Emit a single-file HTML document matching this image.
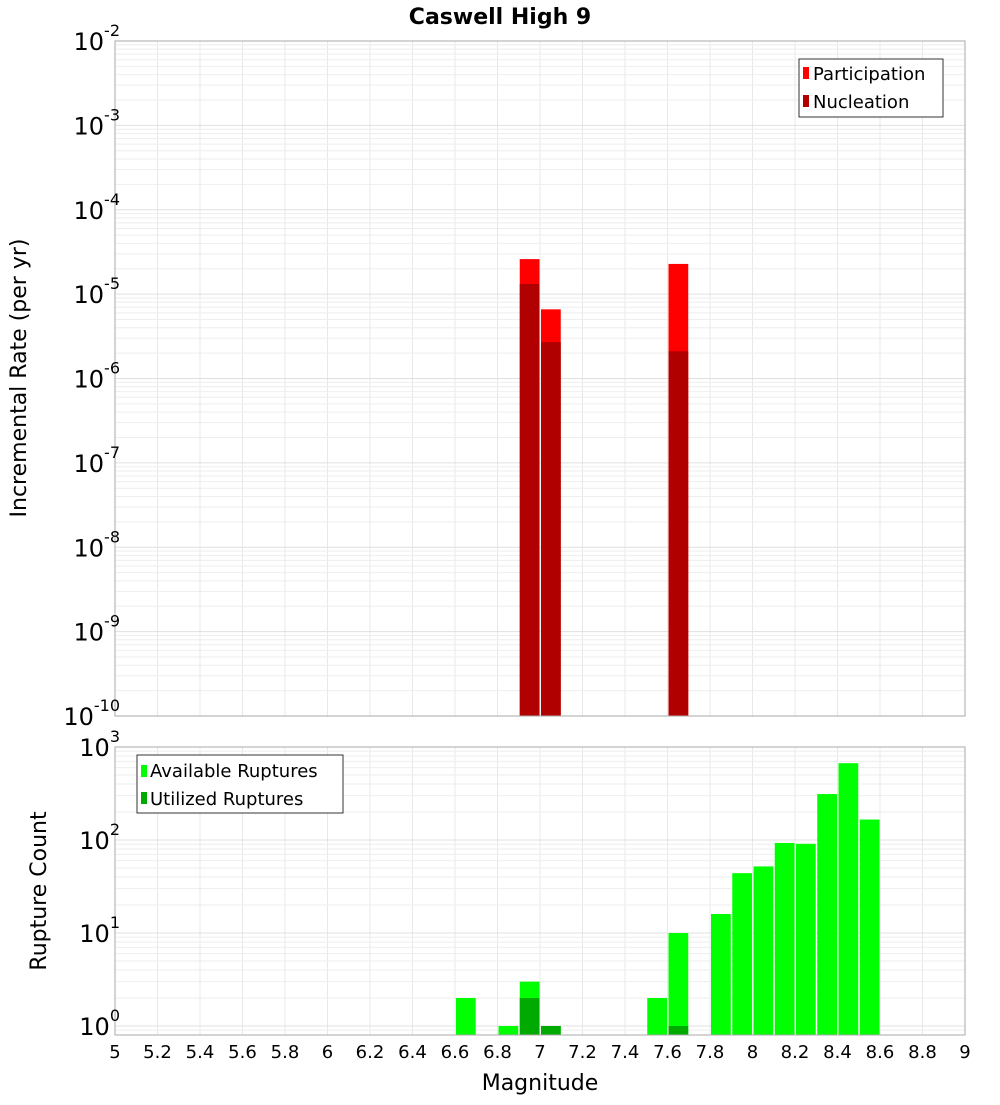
<!DOCTYPE html>
<html><head><meta charset="utf-8"><style>
body{margin:0;background:#fff;font-family:"Liberation Sans","DejaVu Sans",sans-serif}
svg text{font-family:"DejaVu Sans","Liberation Sans",sans-serif}
</style></head><body>
<svg id="chart" width="1000" height="1100" xmlns="http://www.w3.org/2000/svg">
<rect width="1000" height="1100" fill="#fff"/>
<text x="500" y="24" text-anchor="middle" font-size="22" font-weight="bold">Caswell High 9</text>
<g id="grid"></g>
<g id="bars"></g>
<rect x="115" y="41" width="850" height="675" fill="none" stroke="#aaa"/>
<rect x="115" y="747" width="850" height="288" fill="none" stroke="#aaa"/>
<g id="labels"></g>
<text transform="translate(26,378) rotate(-90)" text-anchor="middle" font-size="22">Incremental Rate (per yr)</text>
<text transform="translate(46,891) rotate(-90)" text-anchor="middle" font-size="22">Rupture Count</text>
<text x="540" y="1090" text-anchor="middle" font-size="22">Magnitude</text>
<g>
<rect x="799" y="59" width="144" height="58" fill="#fff" stroke="#333"/>
<rect x="803" y="67" width="6" height="12" fill="#ff0000"/>
<text x="813" y="80" font-size="18">Participation</text>
<rect x="803" y="95" width="6" height="12" fill="#b00000"/>
<text x="813" y="108" font-size="18">Nucleation</text>
</g>
<g>
<rect x="137" y="755" width="206" height="58" fill="#fff" stroke="#333"/>
<rect x="141" y="765" width="6" height="12" fill="#00ff00"/>
<text x="150" y="777" font-size="18">Available Ruptures</text>
<rect x="141" y="792" width="6" height="12" fill="#00aa00"/>
<text x="150" y="805" font-size="18">Utilized Ruptures</text>
</g>
</svg>
<script>
const NS="http://www.w3.org/2000/svg";
const rateMags=[6.95,7.05,7.65];
const participation=[2.6e-5,6.6e-6,2.28e-5];
const nucleation=[1.32e-5,2.7e-6,2.1e-6];
const countMags=[6.65,6.85,6.95,7.05,7.55,7.65,7.85,7.95,8.05,8.15,8.25,8.35,8.45,8.55];
const available=[2,1,3,1,2,10,16,44,52,93,91,312,670,166];
const utilized=[0,0,2,1,0,1,0,0,0,0,0,0,0,0];
const xTicks=[5,5.2,5.4,5.6,5.8,6,6.2,6.4,6.6,6.8,7,7.2,7.4,7.6,7.8,8,8.2,8.4,8.6,8.8,9];
const topExps=[-2,-3,-4,-5,-6,-7,-8,-9,-10];
const botExps=[3,2,1,0];
const binW=0.1;
const X=m=>115+(m-5)*212.5;
const YT=v=>41+(-2-Math.log10(v))*84.375;
const YB=v=>1026-Math.log10(v)*93;
function el(tag,attrs,parent){const e=document.createElementNS(NS,tag);for(const k in attrs)e.setAttribute(k,attrs[k]);document.getElementById(parent).appendChild(e);return e;}
// grid
for(const t of xTicks){
 const l1=el('line',{x1:X(t),x2:X(t),y1:41,y2:716,stroke:'#e8e8e8'},'grid');
 
 
 const l2=el('line',{x1:X(t),x2:X(t),y1:747,y2:1035,stroke:'#e8e8e8'},'grid');
 
 
 const tx=el('text',{x:X(t),y:1058,'text-anchor':'middle','font-size':18},'labels');
 tx.textContent=String(t);
 
 
}
for(let e=-10;e<-2;e++)for(let k=1;k<10;k++){
 const y=YT(k*Math.pow(10,e));
 const l=el('line',{x1:115,x2:965,y1:y,y2:y,stroke:k==1?'#e0e0e0':'#eeeeee'},'grid');
 
 
}
for(let e=-1;e<3;e++)for(let k=1;k<10;k++){
 const y=YB(k*Math.pow(10,e));
 if(y>1035||y<747)continue;
 const l=el('line',{x1:115,x2:965,y1:y,y2:y,stroke:k==1?'#e0e0e0':'#eeeeee'},'grid');
 
 
}
function ylab(e,y,name){
 const t=el('text',{x:105,y:y+9,'text-anchor':'end','font-size':24},'labels');
 
 
 const a=document.createElementNS(NS,'tspan');a.textContent='10';t.appendChild(a);
 const b=document.createElementNS(NS,'tspan');b.setAttribute('dy','-14');b.setAttribute('font-size','16');b.textContent=String(e);t.appendChild(b);
 t.setAttribute('x',String(72+48));t.setAttribute('text-anchor','end');
}
for(const e of topExps)ylab(e,YT(Math.pow(10,e)),'top-y-tick-label');
for(const e of botExps)ylab(e,YB(Math.pow(10,e)),'bottom-y-tick-label');
function bar(m,v,Y,base,fill,name){
 const x0=X(m-binW/2)+1,x1=X(m+binW/2)-0.5;const y=Y(v);
 const r=el('rect',{x:x0,y:y,width:x1-x0,height:base-y,fill:fill},'bars');
 
 
}
rateMags.forEach((m,i)=>{bar(m,participation[i],YT,716,'#ff0000','participation-bar');bar(m,nucleation[i],YT,716,'#b00000','nucleation-bar');});
countMags.forEach((m,i)=>{if(available[i]>0)bar(m,available[i],YB,1035,'#00ff00','available-bar');if(utilized[i]>0)bar(m,utilized[i],YB,1035,'#00aa00','utilized-bar');});
</script>
</body></html>
